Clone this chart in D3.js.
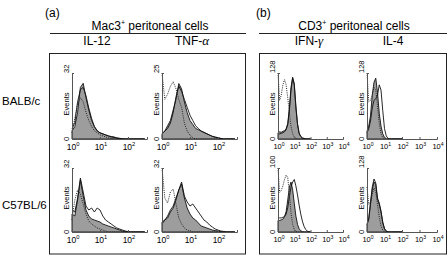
<!DOCTYPE html>
<html>
<head>
<meta charset="utf-8">
<script src="https://cdn.jsdelivr.net/npm/d3@7"></script>
<style>
  body { margin: 0; background: #fff; }
  svg { display: block; font-family: "Liberation Sans", Arial, sans-serif; }
</style>
</head>
<body>
<svg id="chart" width="448" height="256"></svg>
<script>
//#region DATA /////////////////////////////////////////////////////////////////

// histogram bins, log10 of fluorescence intensity
const binsA = [0, 0.1, 0.2, 0.3, 0.4, 0.5, 0.6, 0.7, 0.8, 0.9, 1.0, 1.1, 1.2, 1.3,
               1.4, 1.5, 1.6, 1.7, 1.8, 1.9, 2.0, 2.1, 2.2, 2.3, 2.4, 2.5, 2.6];
const binsB = [0, 0.1, 0.2, 0.3, 0.4, 0.5, 0.6, 0.7, 0.8, 0.9, 1.0, 1.1, 1.2, 1.3,
               1.4, 1.5, 1.6, 1.7, 1.8, 1.9, 2.0];

const strains = ["BALB/c", "C57BL/6"];
const cytokines = [["IL-", "12"], ["TNF-", "\u03b1"], ["IFN-", "\u03b3"], ["IL-", "4"]];
const yMaxTop = [32, 25, 128, 128];
const yMaxBottom = [32, 32, 100, 128];
const ticksA = [0, 1, 2];
const ticksB = [0, 1, 2, 3, 4];

// Mac3+ cells, IL-12
const il12BalbFill = [4, 6, 13, 25, 27, 20, 14, 9, 6, 4, 3, 2.5, 2, 1.5, 1.2, 1, 0.5, 0.3, 0, 0, 0, 0, 0, 0, 0, 0, 0];
const il12BalbLine = [5, 8, 18, 24, 25, 21, 15, 10, 6, 4, 3, 2.5, 2, 1.5, 1, 0.8, 0.5, 0.3, 0.2, 0, 0, 0, 0, 0, 0, 0, 0];
const il12BalbIso  = [3, 10, 17, 20, 18, 13, 9, 6, 4, 3, 2, 1.5, 1, 0.6, 0.3, 0, 0, 0, 0, 0, 0, 0, 0, 0, 0, 0, 0];
const il12C57Fill  = [9, 8, 16, 26, 18, 11, 8, 6.5, 6, 5.5, 5, 4, 3.5, 3, 2.5, 2, 1.5, 1, 0.5, 0.3, 0, 0, 0, 0, 0, 0, 0];
const il12C57Line  = [11, 10, 17, 27, 20, 13, 11, 12, 10, 12, 11, 8, 6, 5, 4, 3, 2, 1.5, 1, 0.5, 0.2, 0, 0, 0, 0, 0, 0];
const il12C57Iso   = [6, 16, 21, 19, 14, 9, 5.5, 4, 3, 2, 1.5, 1, 0.5, 0, 0, 0, 0, 0, 0, 0, 0, 0, 0, 0, 0, 0, 0];

// Mac3+ cells, TNF-alpha
const tnfBalbFill = [2, 3, 5, 7, 11, 15, 21, 19, 14, 10, 7, 5.5, 4, 3.5, 3, 2.5, 2, 1.5, 1, 0.7, 0.5, 0.2, 0, 0, 0, 0, 0];
const tnfBalbLine = [2, 3, 4, 6, 10, 16, 20, 18, 15, 12, 9, 7, 5, 4, 3, 2.5, 2, 1.5, 1, 0.7, 0.5, 0.2, 0, 0, 0, 0, 0];
const tnfBalbIso  = [25, 15, 17, 20, 21.7, 19, 15, 12, 6, 3, 1.5, 0.5, 0, 0, 0, 0, 0, 0, 0, 0, 0, 0, 0, 0, 0, 0, 0];
const tnfC57Fill  = [5, 6, 7, 10, 12, 16, 21, 24, 17, 12, 9, 7, 6, 4.5, 3, 2.5, 2, 1.5, 1, 0.7, 0.5, 0.2, 0, 0, 0, 0, 0];
const tnfC57Line  = [4, 6, 8, 11, 13, 17, 21, 25, 18, 15, 13, 14, 12, 10, 8, 6, 5, 3.5, 2.5, 1.5, 1, 0.5, 0.3, 0, 0, 0, 0];
const tnfC57Iso   = [32, 17, 14.5, 20, 21.5, 14, 7, 4, 2, 1, 0.5, 0, 0, 0, 0, 0, 0, 0, 0, 0, 0, 0, 0, 0, 0, 0, 0];

// CD3+ cells, IFN-gamma
const ifnBalbFill = [12, 14, 13, 15, 16, 20, 30, 60, 100, 120, 105, 60, 28, 10, 5, 2, 1, 0, 0, 0, 0];
const ifnBalbLine = [8, 10, 11, 12, 14, 18, 28, 55, 95, 118, 108, 65, 30, 12, 5, 2, 1, 0.5, 0, 0, 0];
const ifnBalbIso  = [128, 75, 85, 105, 115, 105, 80, 50, 25, 10, 4, 1, 0, 0, 0, 0, 0, 0, 0, 0, 0];
const ifnC57Fill  = [18, 18, 19, 20, 24, 32, 50, 70, 78, 66, 45, 25, 12, 5, 2, 0.5, 0, 0, 0, 0, 0];
const ifnC57Line  = [22, 22, 22, 23, 24, 28, 38, 55, 70, 78, 82, 72, 58, 42, 28, 17, 9, 4, 1.5, 0.5, 0];
const ifnC57Iso   = [100, 62, 65, 72, 82, 89, 85, 60, 30, 12, 4, 1, 0, 0, 0, 0, 0, 0, 0, 0, 0];

// CD3+ cells, IL-4
const il4BalbFill = [15, 25, 45, 85, 110, 118, 90, 50, 25, 10, 3, 0, 0, 0, 0, 0, 0, 0, 0, 0, 0];
const il4BalbLine = [12, 20, 35, 60, 75, 78, 85, 105, 95, 55, 20, 6, 1, 0, 0, 0, 0, 0, 0, 0, 0];
const il4BalbIso  = [128, 72, 75, 85, 100, 95, 65, 30, 10, 3, 0, 0, 0, 0, 0, 0, 0, 0, 0, 0, 0];
const il4C57Fill  = [15, 25, 55, 85, 100, 95, 65, 55, 40, 18, 6, 1, 0, 0, 0, 0, 0, 0, 0, 0, 0];
const il4C57Line  = [15, 28, 60, 90, 106, 98, 68, 58, 42, 20, 7, 2, 0, 0, 0, 0, 0, 0, 0, 0, 0];
const il4C57Iso   = [90, 55, 60, 75, 88, 80, 55, 30, 12, 4, 0, 0, 0, 0, 0, 0, 0, 0, 0, 0, 0];

//#endregion

//#region LAYOUT ///////////////////////////////////////////////////////////////

const FILL_COLOR = "#9d9d9d";
const ROWS = [{ top: 73, bottom: 139, label: 105 }, { top: 168, bottom: 232, label: 209 }];
// x0 = position of 10^0, x1 = end of the axis, maxLog = decades covered
const COLS = [
  { x0: 72,  x1: 147, maxLog: 2.68, bins: binsA, ticks: ticksA, font: 8.5, title: 97 },
  { x0: 162, x1: 237, maxLog: 2.68, bins: binsA, ticks: ticksA, font: 8.5, title: 192 },
  { x0: 278, x1: 343, maxLog: 4,    bins: binsB, ticks: ticksB, font: 7.5, title: 309 },
  { x0: 367, x1: 437, maxLog: 4,    bins: binsB, ticks: ticksB, font: 7.5, title: 393 }
];

// table of histograms, [row][col] = [filled, line, isotype]
const hist = [
  [[il12BalbFill, il12BalbLine, il12BalbIso], [tnfBalbFill, tnfBalbLine, tnfBalbIso],
   [ifnBalbFill, ifnBalbLine, ifnBalbIso], [il4BalbFill, il4BalbLine, il4BalbIso]],
  [[il12C57Fill, il12C57Line, il12C57Iso], [tnfC57Fill, tnfC57Line, tnfC57Iso],
   [ifnC57Fill, ifnC57Line, ifnC57Iso], [il4C57Fill, il4C57Line, il4C57Iso]]
];
const yMax = [yMaxTop, yMaxBottom];

//#endregion

//#region DRAWING //////////////////////////////////////////////////////////////

const svg = d3.select("#chart");

// frame, headings
function drawFrame()
{
  svg.append("rect").attr("x", 49.5).attr("y", 53.5).attr("width", 196).attr("height", 200.5)
     .attr("fill", "none").attr("stroke", "#222");
  svg.append("rect").attr("x", 259.5).attr("y", 53.5).attr("width", 187).attr("height", 200.5)
     .attr("fill", "none").attr("stroke", "#222");

  svg.append("line").attr("x1", 50).attr("x2", 246).attr("y1", 33.5).attr("y2", 33.5).attr("stroke", "#222");
  svg.append("line").attr("x1", 259).attr("x2", 447).attr("y1", 33.5).attr("y2", 33.5).attr("stroke", "#222");

  svg.append("text").attr("x", 45).attr("y", 17).attr("font-size", 12).text("(a)");
  svg.append("text").attr("x", 256).attr("y", 17).attr("font-size", 12).text("(b)");

  let heads = [["Mac3", 150], ["CD3", 354]];
  for (let [name, cx] of heads)
  {
    let t = svg.append("text").attr("x", cx).attr("y", 30).attr("font-size", 12)
               .attr("text-anchor", "middle");
    t.append("tspan").text(name);
    t.append("tspan").attr("dy", -5).attr("font-size", 7).text("+");
    t.append("tspan").attr("dy", 5).text(" peritoneal cells");
  }

  COLS.forEach((c, i) =>
  {
    let t = svg.append("text").attr("x", c.title).attr("y", 45).attr("font-size", 12)
               .attr("text-anchor", "middle");
    t.append("tspan").text(cytokines[i][0]);
    let greek = i == 1 || i == 2;
    t.append("tspan").text(cytokines[i][1])
     .attr("font-family", greek ? "'Liberation Serif', serif" : null)
     .attr("font-style", greek ? "italic" : null)
     .attr("font-size", greek ? 13 : null);
  });

  strains.forEach((s, r) =>
    svg.append("text").attr("x", 2).attr("y", ROWS[r].label).attr("font-size", 11.5).text(s));
}

function drawPanel(r, c)
{
  let row = ROWS[r], col = COLS[c];
  let max = yMax[r][c];
  let [fillData, lineData, isoData] = hist[r][c];

  let x = d3.scaleLog().domain([1, Math.pow(10, col.maxLog)]).range([col.x0, col.x1]);
  let y = d3.scaleLinear().domain([0, max]).range([row.bottom, row.top]).clamp(true);
  let g = svg.append("g");

  let pts = d => col.bins.map((b, i) => [Math.pow(10, b), d[i]]);

  let area = d3.area().x(d => x(d[0])).y0(row.bottom).y1(d => y(d[1]));
  let line = d3.line().x(d => x(d[0])).y(d => y(d[1]));

  g.append("path").attr("d", area(pts(fillData)))
   .attr("fill", FILL_COLOR).attr("stroke", "#111").attr("stroke-width", 0.9);
  g.append("path").attr("d", line(pts(lineData)))
   .attr("fill", "none").attr("stroke", "#111").attr("stroke-width", 0.9);
  g.append("path").attr("d", line(pts(isoData)))
   .attr("fill", "none").attr("stroke", "#222").attr("stroke-width", 1)
   .attr("stroke-dasharray", "1,1.2");

  // axes
  let xAxis = d3.axisBottom(x).tickValues(col.ticks.map(t => Math.pow(10, t)))
                .tickSize(-2).tickFormat("");
  g.append("g").attr("transform", "translate(0," + row.bottom + ")").call(xAxis)
   .call(a => a.selectAll("path,line").attr("stroke", "#555"));
  let yAxis = d3.axisLeft(y).tickValues([0, max]).tickSize(-2).tickFormat("");
  g.append("g").attr("transform", "translate(" + col.x0 + ",0)").call(yAxis)
   .call(a => a.selectAll("path,line").attr("stroke", "#555"));

  // x tick labels 10^n
  for (let t of col.ticks)
  {
    let lbl = g.append("text").attr("x", x(Math.pow(10, t)) + 1)
               .attr("y", row.bottom + col.font + 2.5)
               .attr("font-size", col.font).attr("text-anchor", "middle");
    lbl.append("tspan").text("10");
    lbl.append("tspan").attr("dy", -col.font * 0.45).attr("font-size", col.font * 0.68).text(t);
  }

  // y labels, rotated
  let lx = col.x0 - 3;
  let rot = (yy, anchor, txt) =>
    g.append("text").attr("transform", "translate(" + lx + "," + yy + ") rotate(-90)")
     .attr("text-anchor", anchor).attr("font-size", 7.5).text(txt);
  rot(row.top, "start", max);
  rot(row.bottom, "middle", 0);
  rot((row.top + row.bottom) / 2 - 2, "middle", "Events");
}

drawFrame();
for (let r = 0; r < 2; r++)
  for (let c = 0; c < 4; c++)
    drawPanel(r, c);

//#endregion
</script>
</body>
</html>
